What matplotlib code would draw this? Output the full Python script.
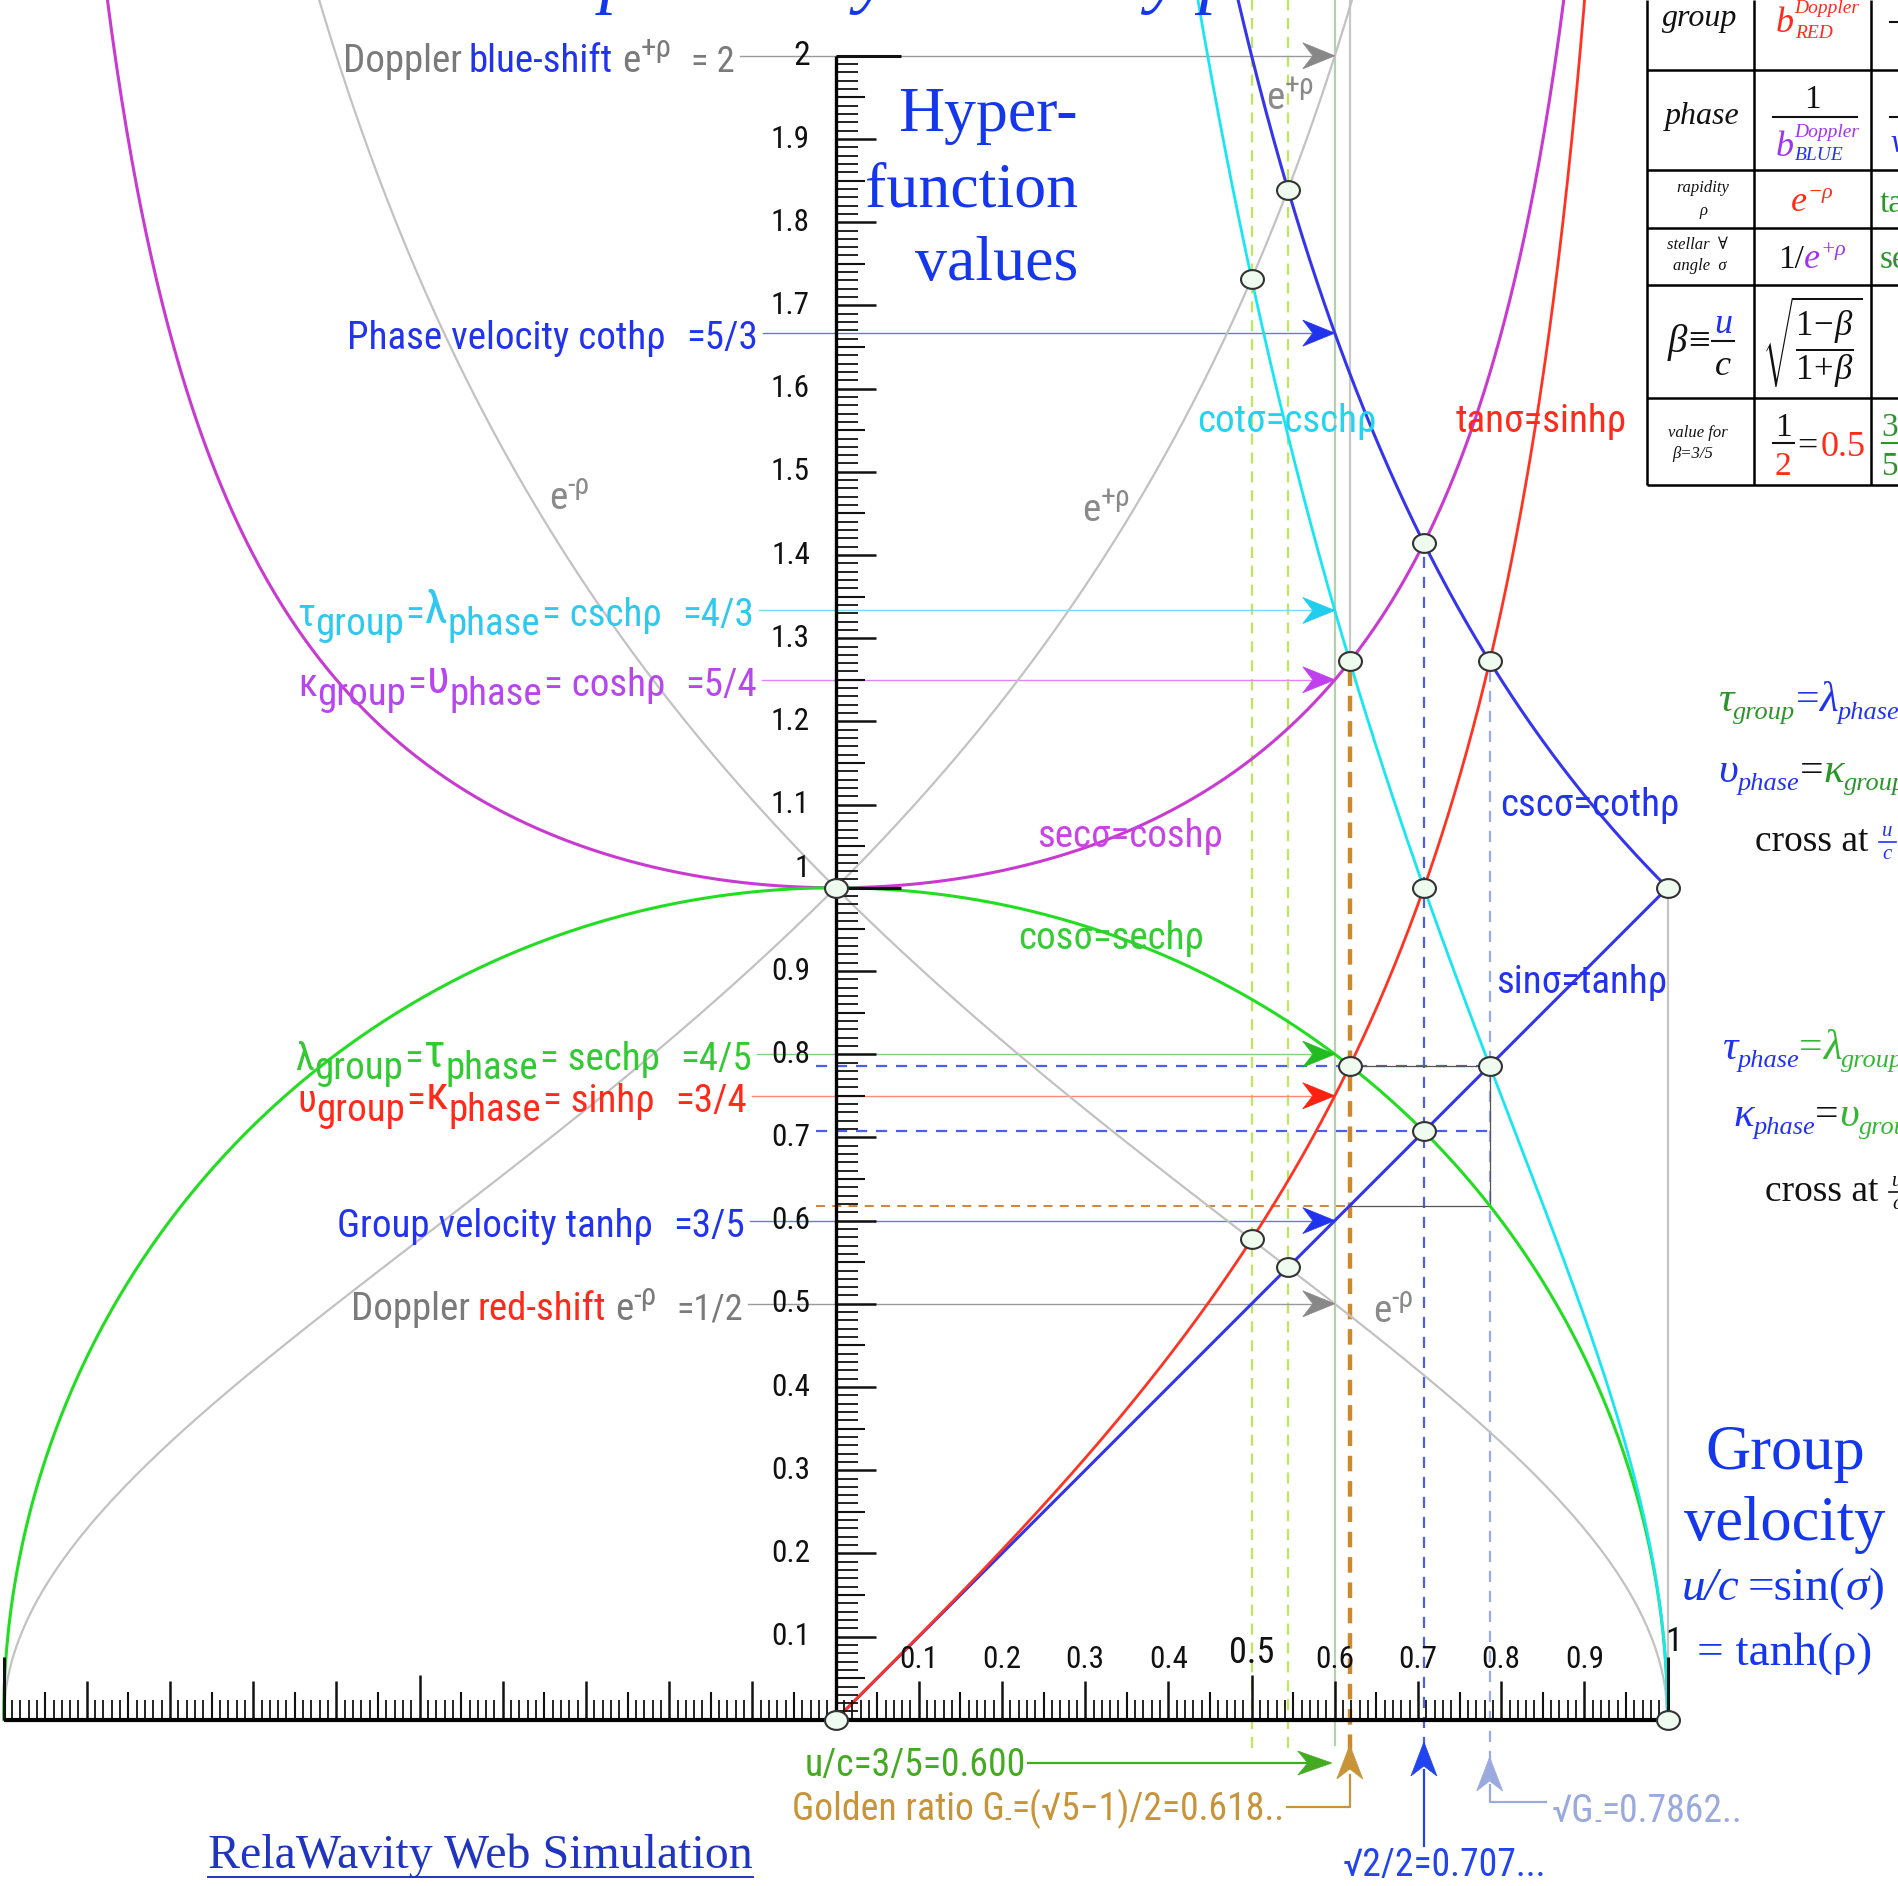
import numpy as np
import matplotlib
matplotlib.use("Agg")
import matplotlib.pyplot as plt
import matplotlib.font_manager as fm
from matplotlib.patches import Polygon
from matplotlib.collections import LineCollection
from matplotlib.path import Path

plt.rcParams["mathtext.fontset"] = "custom"
plt.rcParams["mathtext.rm"] = "Liberation Serif"
plt.rcParams["mathtext.it"] = "Liberation Serif:italic"
plt.rcParams["mathtext.bf"] = "Liberation Serif:bold"

# ---------------- values shown on the chart ----------------
group_velocity = 0.6                        # u/c = 3/5
golden_ratio = (np.sqrt(5) - 1) / 2         # G_ = 0.618...
root_half = np.sqrt(2) / 2                  # 0.707...
root_golden = np.sqrt(golden_ratio)         # 0.7862...
half_beta = 0.5
cubic_beta = 0.5437                         # 1/beta = e^{+rho}

arrow_values = [2.0, 5 / 3, 4 / 3, 5 / 4, 4 / 5, 3 / 4, 3 / 5, 1 / 2]
y_tick_values = [0.1, 0.2, 0.3, 0.4, 0.5, 0.6, 0.7, 0.8, 0.9,
                 1.1, 1.2, 1.3, 1.4, 1.5, 1.6, 1.7, 1.8, 1.9, 2.0]
y_tick_labels = ["0.1", "0.2", "0.3", "0.4", "0.5", "0.6", "0.7", "0.8", "0.9",
                 "1.1", "1.2", "1.3", "1.4", "1.5", "1.6", "1.7", "1.8", "1.9", "2"]
x_tick_values = [0.1, 0.2, 0.3, 0.4, 0.5, 0.6, 0.7, 0.8, 0.9]
x_tick_labels = ["0.1", "0.2", "0.3", "0.4", "0.5", "0.6", "0.7", "0.8", "0.9"]


# functions of beta = u/c
def sec_(b): return 1 / np.sqrt(1 - b ** 2)
def cos_(b): return np.sqrt(np.clip(1 - b ** 2, 0, None))
def cot_(b): return np.sqrt(np.clip(1 - b ** 2, 0, None)) / b
def csc_(b): return 1 / b
def tan_(b): return b / np.sqrt(1 - b ** 2)
def eplus(b): return np.sqrt((1 + b) / (1 - b))
def eminus(b): return np.sqrt((1 - b) / (1 + b))


# ---------------- fonts ----------------
ttf = fm.fontManager.ttflist
names = {f.name for f in ttf}
SANS, NARROW = None, {}
for cand in ["Liberation Sans Narrow", "Arial Narrow", "Roboto Condensed",
             "Open Sans Condensed", "Noto Sans Condensed", "DejaVu Sans Condensed"]:
    if cand in names:
        SANS = [cand, "DejaVu Sans"]
        break
if SANS is None:
    for fam in ["Noto Sans", "DejaVu Sans", "Open Sans", "Roboto"]:
        if any(f.name == fam and f.stretch in ("condensed", "semi-condensed") for f in ttf):
            SANS, NARROW = [fam, "DejaVu Sans"], {"fontstretch": "condensed"}
            break
if SANS is None:
    SANS = ["Liberation Sans", "DejaVu Sans"]
SERIF = ["Liberation Serif", "DejaVu Serif"]

# ---------------- canvas ----------------
W, H, DPI = 1899, 1886, 100
X0, Y0, S = 835.6, 1719.8, 832.0


def dx(px): return (px - X0) / S
def dy(py): return (Y0 - py) / S
def py_of(v): return Y0 - v * S
def px_of(v): return X0 + v * S


fig = plt.figure(figsize=(W / DPI, H / DPI), dpi=DPI)
ax = fig.add_axes([0, 0, 1, 1])
ax.set_xlim(dx(0), dx(W))
ax.set_ylim(dy(H), dy(0))
ax.axis("off")
renderer = fig.canvas.get_renderer()


def text_width(txt, **kw):
    t = ax.text(0, 0, txt, **kw)
    w = t.get_window_extent(renderer).width
    t.remove()
    return w


# size factor so the sans lettering keeps its narrow set width
_w = (text_width("Phase velocity cothρ", fontsize=30, family=SANS, **NARROW)
      + text_width("=5/3", fontsize=30, family=SANS, **NARROW) + 20)
SK = min(1.15, max(0.7, 409.0 / _w))

GRAY_T, BLUE, CYAN_T, PURP_T = "#7a7a7a", "#2233ee", "#2fc8ee", "#b846ee"
GREEN_T, RED = "#33c933", "#ff2a1a"


def seg(txt, color, size=30, gap=0, rise=0, fam=None, **k):
    if fam is None:
        d = dict(color=color, fontsize=size * SK, family=SANS, gap=gap, rise=rise, **NARROW)
    else:
        d = dict(color=color, fontsize=size, family=fam, gap=gap, rise=rise)
    d.update(k)
    return (txt, d)


def rich(x, y, segs, ha="left", z=8):
    items, cur = [], x
    for txt, kw in segs:
        kw = dict(kw)
        gap = kw.pop("gap", 0)
        rise = kw.pop("rise", 0)
        cur += gap
        t = ax.text(dx(cur), dy(y - rise), txt, ha="left", va="baseline", zorder=z, **kw)
        cur += t.get_window_extent(renderer).width
        items.append(t)
    shift = {"left": 0, "center": 0.5, "right": 1}[ha] * (cur - x)
    for t in items:
        px, pyy = t.get_position()
        t.set_position((px - shift / S, pyy))
    return cur - shift


def stext(x, y, txt, size, **kw):
    return ax.text(x, y, txt, fontsize=size * SK, family=SANS, **NARROW, **kw)


def pline(pts, **kw):
    ax.plot([dx(a) for a, b in pts], [dy(b) for a, b in pts], **kw)


def head(tip, direction, color, length=32, width=26, notch=10, z=6):
    tx, ty = tip
    if direction == "right":
        pts = [(tx, ty), (tx - length, ty - width / 2), (tx - length + notch, ty),
               (tx - length, ty + width / 2)]
    else:
        pts = [(tx, ty), (tx - width / 2, ty + length), (tx, ty + length - notch),
               (tx + width / 2, ty + length)]
    ax.add_patch(Polygon([(dx(a), dy(b)) for a, b in pts], closed=True,
                         fc=color, ec=color, lw=0.5, zorder=z))


# ---------------- vertical guide lines ----------------
top = dy(0)
for xv in (half_beta, cubic_beta):
    ax.plot([xv, xv], [dy(1748), top], color="#bde85a", lw=1.6, ls=(0, (5, 3.5)), zorder=1)
ax.plot([group_velocity] * 2, [dy(1745), top], color="#b4d0ac", lw=1.6, zorder=1)
ax.plot([golden_ratio] * 2, [sec_(golden_ratio), top], color="#c8c8c8", lw=1.6, zorder=1)
ax.plot([1, 1], [0, 1], color="#c4c4c4", lw=1.6, zorder=1)

# dashed drops to the x axis
ax.plot([golden_ratio] * 2, [dy(1750), sec_(golden_ratio)], color="#cc8a2a", lw=3.2,
        ls=(0, (3.5, 2.2)), zorder=2)
ax.plot([root_half] * 2, [dy(1748), sec_(root_half)], color="#4a5ef0", lw=1.6,
        ls=(0, (5, 4)), zorder=2)
ax.plot([root_golden] * 2, [dy(1762), csc_(root_golden)], color="#9aaaf0", lw=1.6,
        ls=(0, (5, 4)), zorder=2)

# horizontal dashed levels
ax.plot([-0.024, root_golden], [root_golden] * 2, color="#4a5ef0", lw=1.6, ls=(0, (5, 4)), zorder=2)
ax.plot([-0.024, root_golden], [root_half] * 2, color="#4a5ef0", lw=1.6, ls=(0, (5, 4)), zorder=2)
ax.plot([-0.024, golden_ratio], [golden_ratio] * 2, color="#cc7a33", lw=1.3, ls=(0, (5, 4)), zorder=2)
# thin frame between the golden values
ax.plot([golden_ratio, root_golden, root_golden, golden_ratio],
        [root_golden, root_golden, golden_ratio, golden_ratio], color="#555555", lw=0.9, zorder=2)

# ---------------- curves ----------------
xr = np.linspace(-0.9, 0.9, 600)
ax.plot(xr, sec_(xr), color="#c83ad0", lw=2.2, zorder=3)
xg = np.concatenate([np.linspace(-1, -0.95, 200), np.linspace(-0.95, 0.95, 600),
                     np.linspace(0.95, 1, 200)])
ax.plot(xg, cos_(xg), color="#22dd22", lw=2.2, zorder=3)

b = np.linspace(0, 0.72, 400)
ax.plot(b, eplus(b), color="#c2c2c2", lw=1.6, zorder=3)
b = np.linspace(0, 1, 400)
ax.plot(b, eminus(b), color="#c2c2c2", lw=1.6, zorder=3)
xl = np.linspace(-0.72, 0, 400)
ax.plot(xl, eminus(xl), color="#c2c2c2", lw=1.6, zorder=3)
xl = np.linspace(-1, 0, 400)
ax.plot(xl, eplus(xl), color="#c2c2c2", lw=1.6, zorder=3)

b = np.linspace(0.4, 1, 500)
ax.plot(b, cot_(b), color="#18e6f0", lw=2.0, zorder=3)
b = np.linspace(0.45, 1, 500)
ax.plot(b, csc_(b), color="#3535ee", lw=2.2, zorder=3)
b = np.linspace(0, 1, 50)
ax.plot(b, b, color="#3535ee", lw=2.2, zorder=3)
b = np.linspace(0, 0.93, 500)
ax.plot(b, tan_(b), color="#ff3322", lw=2.0, zorder=3)

# ---------------- rulers ----------------
segs, lws = [], []
for k in range(1, 201):
    yv = k / 100
    if k % 100 == 0:
        ln, lw = 0.079, 2.2
    elif k % 10 == 0:
        ln, lw = 0.049, 1.8
    elif k % 5 == 0:
        ln, lw = 0.035, 1.5
    else:
        ln, lw = 0.027, 1.3
    segs.append([(0, yv), (ln, yv)])
    lws.append(lw)
ax.add_collection(LineCollection(segs, colors="#111111", linewidths=lws, zorder=4))
ax.plot([0, 0], [0, 2], color="black", lw=2.4, zorder=4, solid_capstyle="butt")

segs, lws = [], []
for k in range(-100, 101):
    if k == 0:
        continue
    xv = k / 100
    if abs(k) == 100:
        ln, lw = 0.076, 2.2
    elif abs(k) == 50:
        ln, lw = 0.054, 1.8
    elif k % 10 == 0:
        ln, lw = 0.047, 1.8
    elif k % 5 == 0:
        ln, lw = 0.033, 1.5
    else:
        ln, lw = 0.024, 1.3
    segs.append([(xv, 0), (xv, ln)])
    lws.append(lw)
ax.add_collection(LineCollection(segs, colors="#111111", linewidths=lws, zorder=4))
ax.plot([-1, 1], [0, 0], color="black", lw=3.0, zorder=4, solid_capstyle="butt")

# tick labels
for v, lab in zip(y_tick_values, y_tick_labels):
    stext(dx(810), v, lab, 26 if lab == "2" else 24, ha="right", va="center",
          color="#111111", zorder=8)
stext(dx(810), dy(868), "1", 24, ha="right", va="center", color="#111111", zorder=8)
for v, lab in zip(x_tick_values, x_tick_labels):
    big = lab == "0.5"
    stext(v, dy(1653 if big else 1660), lab, 28 if big else 24, ha="center", va="center",
          color="#111111", zorder=8)
stext(dx(1674), dy(1642), "1", 26, ha="center", va="center", color="#111111", zorder=8)

# ---------------- labelled arrows to u/c = 0.6 ----------------
def greek_label(g1, g2, fn, col):
    return [seg(g1, col), seg("group", col, 30, rise=-9), seg("=", col, gap=1),
            seg(g2, col, 36, rise=3, gap=1), seg("phase", col, 30, rise=-9),
            seg("= " + fn, col, gap=2)]


label_rows = [
    ([seg("Doppler", GRAY_T), seg("blue-shift", BLUE, gap=7), seg("e", GRAY_T, gap=9),
      seg("+ρ", GRAY_T, 24, rise=15), seg("= 2", GRAY_T, 28, gap=20)],
     735, "#9a9a9a", "#888888"),
    ([seg("Phase velocity cothρ", BLUE), seg("=5/3", BLUE, gap=20)], 758, "#6677ee", BLUE),
    (greek_label("τ", "λ", "cschρ", CYAN_T) + [seg("=4/3", CYAN_T, gap=20)], 754,
     "#77ddee", "#22ccee"),
    (greek_label("κ", "υ", "coshρ", PURP_T) + [seg("=5/4", PURP_T, gap=20)], 757,
     "#dd88ee", "#c040ee"),
    (greek_label("λ", "τ", "sechρ", GREEN_T) + [seg("=4/5", GREEN_T, gap=20)], 752,
     "#88cc88", "#22bb22"),
    (greek_label("υ", "κ", "sinhρ", RED) + [seg("=3/4", RED, gap=20)], 747,
     "#ff8877", "#ff2211"),
    ([seg("Group velocity tanhρ", BLUE), seg("=3/5", BLUE, gap=20)], 745, "#6677ee", BLUE),
    ([seg("Doppler", GRAY_T), seg("red-shift", RED, gap=7), seg("e", GRAY_T, gap=9),
      seg("-ρ", GRAY_T, 24, rise=15), seg("=1/2", GRAY_T, 28, gap=20)],
     743, "#9a9a9a", "#888888"),
]
tip_px = px_of(group_velocity)
for v, (segs_, right, lcol, hcol) in zip(arrow_values, label_rows):
    yp = py_of(v)
    rich(right, yp + 16, segs_, ha="right")
    pline([(right + 5, yp), (tip_px - 24, yp)], color=lcol, lw=1.0, zorder=2)
    head((tip_px, yp), "right", hcol)

# ---------------- curve names ----------------
def name(cx, cy, txt, col, size=30):
    rich(cx, cy + 14, [seg(txt, col, size)], ha="center")


name(1287, 418, "cotσ=cschρ", "#22d4f0")
name(1541, 418, "tanσ=sinhρ", RED)
name(1590, 802, "cscσ=cothρ", BLUE)
name(1130, 833, "secσ=coshρ", "#c844e4")
name(1111, 935, "cosσ=sechρ", "#33cc33")
name(1582, 979, "sinσ=tanhρ", BLUE)
for cx, cy, sup in [(1290, 97, "+ρ"), (1106, 509, "+ρ"), (569, 497, "-ρ"), (1393, 1310, "-ρ")]:
    rich(cx, cy + 12, [seg("e", "#8a8a8a", 30), seg(sup, "#8a8a8a", 23, rise=15)], ha="center")

# ---------------- crossing points ----------------
ell = Path.unit_circle().transformed(matplotlib.transforms.Affine2D().scale(1.0, 0.82))
pt_x = [0, 0, 1, 1, half_beta, half_beta, cubic_beta, cubic_beta,
        golden_ratio, golden_ratio, root_half, root_half, root_half,
        root_golden, root_golden]
pt_y = [0, 1, 1, 0, cot_(half_beta), tan_(half_beta), csc_(cubic_beta), cubic_beta,
        sec_(golden_ratio), cos_(golden_ratio), sec_(root_half), tan_(root_half),
        root_half, csc_(root_golden), root_golden]
ax.plot(pt_x, pt_y, ls="none", marker=ell, ms=16.5, mfc="#eefbee", mec="#333333",
        mew=1.5, zorder=7)

# ---------------- bottom call-outs ----------------
GREEN_D, BROWN, LBLUE = "#44aa22", "#c8943a", "#9aaade"
end = rich(805, 1776, [seg("u/c=3/5=0.600", GREEN_D, 29)])
pline([(end + 2, 1763), (tip_px - 26, 1763)], color=GREEN_D, lw=1.6, zorder=5)
head((tip_px - 3, 1763), "right", GREEN_D, length=34, width=24)

end = rich(792, 1820, [seg("Golden ratio G", BROWN, 29), seg("-", BROWN, 21, rise=-7),
                       seg("=(√5−1)/2=0.618..", BROWN, 29)])
gx = px_of(golden_ratio)
pline([(end + 2, 1807), (gx, 1807), (gx, 1775)], color=BROWN, lw=1.6, zorder=5)
head((gx, 1745), "up", BROWN, length=34, width=26)

hx = px_of(root_half)
rich(1444, 1876, [seg("√2/2=0.707...", "#2244ee", 29)], ha="center")
pline([(hx, 1846), (hx, 1770)], color="#2244ee", lw=1.6, zorder=5)
head((hx, 1742), "up", "#2244ee", length=34, width=26)

rx = px_of(root_golden)
rich(1552, 1822, [seg("√G", LBLUE, 29), seg("-", LBLUE, 21, rise=-7),
                  seg("=0.7862..", LBLUE, 29)])
pline([(1546, 1802), (rx, 1802), (rx, 1785)], color=LBLUE, lw=1.6, zorder=5)
head((rx, 1757), "up", LBLUE, length=34, width=26)

# ---------------- serif headings ----------------
TBLUE = "#1437ee"
for txt, yb in [("Hyper-", 131), ("function", 206), ("values", 280)]:
    ax.text(dx(1078), dy(yb), txt, ha="right", va="baseline", fontsize=46,
            family=SERIF, color=TBLUE, zorder=8)

# page heading, sitting above the top edge (only its descenders show)
_lead = text_width("Grou", fontsize=54, family=SERIF, style="italic")
ax.text(dx(600 - _lead), dy(-1), "Group velocity linked by phase", ha="left",
        va="baseline", fontsize=54, family=SERIF, style="italic", color=TBLUE, zorder=8)

for txt, yb in [("Group", 1469), ("velocity", 1540)]:
    ax.text(dx(1785), dy(yb), txt, ha="center", va="baseline", fontsize=45,
            family=SERIF, color=TBLUE, zorder=8)
rich(1783, 1600, [seg("u/c", TBLUE, 34, fam=SERIF, style="italic"),
                  seg("=sin(", TBLUE, 34, gap=8, fam=SERIF),
                  seg("σ", TBLUE, 34, fam=SERIF, style="italic"),
                  seg(")", TBLUE, 34, fam=SERIF)], ha="center")
rich(1785, 1665, [seg("= tanh(ρ)", TBLUE, 34, fam=SERIF)], ha="center")

ax.text(dx(208), dy(1868), "RelaWavity Web Simulation", ha="left", va="baseline",
        fontsize=34.5, family=SERIF, color="#1f35c0", zorder=8)
pline([(208, 1877), (753, 1877)], color="#1f35c0", lw=1.4, zorder=8)

# ---------------- relations on the right ----------------
GR1, GR2 = "#2a962a", "#33b833"


def serif(txt, col, size=31, gap=0, rise=0, it=True):
    return seg(txt, col, size, gap=gap, rise=rise, fam=SERIF,
               style="italic" if it else "normal")


SUB = 19
rich(1718, 711, [serif("τ", GR1), serif("group", GR1, SUB, rise=-8), serif("=", BLUE, 30, it=False),
                 serif("λ", BLUE), serif("phase", BLUE, SUB, rise=-8), serif("=", BLUE, 30, it=False)])
rich(1718, 782, [serif("υ", BLUE), serif("phase", BLUE, SUB, rise=-8), serif("=", "#111111", 30, it=False),
                 serif("κ", GR1), serif("group", GR1, SUB, rise=-8)])
rich(1755, 851, [serif("cross at", "#111111", 27, it=False)])
ax.text(dx(1887), dy(836), "u", ha="center", va="baseline", fontsize=15, family=SERIF,
        style="italic", color=BLUE, zorder=8)
pline([(1879, 842), (1896, 842)], color=BLUE, lw=1.2, zorder=8)
ax.text(dx(1887), dy(859), "c", ha="center", va="baseline", fontsize=15, family=SERIF,
        style="italic", color=BLUE, zorder=8)

rich(1722, 1059, [serif("τ", BLUE), serif("phase", BLUE, SUB, rise=-8), serif("=", GR2, 30, it=False),
                  serif("λ", GR2), serif("group", GR2, SUB, rise=-8)])
rich(1733, 1126, [serif("κ", BLUE), serif("phase", BLUE, SUB, rise=-8), serif("=", "#111111", 30, it=False),
                  serif("υ", GR2), serif("group", GR2, SUB, rise=-8)])
rich(1765, 1201, [serif("cross at", "#111111", 27, it=False)])
ax.text(dx(1897), dy(1186), "u", ha="center", va="baseline", fontsize=15, family=SERIF,
        style="italic", color="#111111", zorder=8)
pline([(1889, 1192), (1899, 1192)], color="#111111", lw=1.2, zorder=8)
ax.text(dx(1897), dy(1209), "c", ha="center", va="baseline", fontsize=15, family=SERIF,
        style="italic", color="#111111", zorder=8)

# ---------------- table ----------------
TBL = dict(color="black", lw=1.8, zorder=8, solid_capstyle="butt")
for yy in [70, 170, 228, 285, 398, 485]:
    pline([(1647, yy), (W, yy)], **TBL)
for xx in [1647, 1754, 1871]:
    pline([(xx, 0), (xx, 485)], **TBL)


def ctext(cx, yb, txt, col="#111111", size=22, it=True, fam=None):
    ax.text(dx(cx), dy(yb), txt, ha="center", va="baseline", fontsize=size,
            family=fam or SERIF, style="italic" if it else "normal", color=col, zorder=9)


ctext(1700, 26, "group", size=23)
ctext(1702, 124, "phase", size=23)
ctext(1703, 192, "rapidity", size=12)
ctext(1703, 215, "ρ", size=12)
ctext(1697, 249, "stellar  ∀", size=12)
ctext(1700, 270, "angle  σ", size=12)
ctext(1698, 437, "value for", size=12)
ctext(1693, 458, "β=3/5", size=12)

# b^Doppler_RED
rich(1776, 32, [serif("b", RED, 26), serif("Doppler", RED, 14, rise=19)])
ax.text(dx(1795), dy(38), "RED", ha="left", va="baseline", fontsize=14, family=SERIF,
        style="italic", color=RED, zorder=9)
# 1 / b^Doppler_BLUE
ctext(1812, 108, "1", size=24, it=False)
pline([(1773, 117), (1857, 117)], color="#111111", lw=1.5, zorder=9)
rich(1776, 156, [serif("b", "#a033ee", 26), serif("Doppler", "#a033ee", 14, rise=19)])
ax.text(dx(1795), dy(160), "BLUE", ha="left", va="baseline", fontsize=14, family=SERIF,
        style="italic", color=BLUE, zorder=9)
# e^{-rho}
rich(1812, 211, [serif("e", RED, 26), serif("−ρ", RED, 16, rise=13)], ha="center")
# 1/e^{+rho}
rich(1812, 268, [serif("1/", "#111111", 24, it=False), serif("e", "#a033ee", 26),
                 serif("+ρ", "#a033ee", 16, rise=13)], ha="center")
# beta = u/c
rich(1668, 352, [serif("β≡", "#111111", 28)])
ctext(1723, 333, "u", col=BLUE, size=26)
pline([(1712, 341), (1734, 341)], color="#111111", lw=1.5, zorder=9)
ctext(1723, 375, "c", size=26)
ax.text(dx(1812), dy(342), r"$\sqrt{\dfrac{1\!-\!\beta}{1\!+\!\beta}}$", ha="center", va="center",
        fontsize=25, color="#111111", zorder=9)
# 1/2 = 0.5
ctext(1783, 436, "1", size=24, it=False)
pline([(1773, 443), (1794, 443)], color="#111111", lw=1.5, zorder=9)
ctext(1783, 475, "2", col=RED, size=24, it=False)
rich(1797, 456, [serif("=", "#111111", 26, it=False), serif("0.5", RED, 26, gap=3, it=False)])
# third column (cut at the edge)
pline([(1890, 22), (W, 22)], color="#111111", lw=1.5, zorder=9)
pline([(1890, 117), (W, 117)], color="#111111", lw=1.5, zorder=9)
ax.text(dx(1891), dy(152), "v", ha="left", va="baseline", fontsize=24, family=SERIF,
        style="italic", color=BLUE, zorder=9)
ax.text(dx(1880), dy(212), "tanh", ha="left", va="baseline", fontsize=24, family=SERIF,
        color="#2a962a", zorder=9)
ax.text(dx(1880), dy(268), "sech", ha="left", va="baseline", fontsize=24, family=SERIF,
        color="#2a962a", zorder=9)
ctext(1890, 436, "3", col="#2a962a", size=24, it=False)
pline([(1882, 443), (W, 443)], color="#2a962a", lw=1.5, zorder=9)
ctext(1890, 475, "5", col="#2a962a", size=24, it=False)

fig.savefig("out.png", dpi=DPI)
